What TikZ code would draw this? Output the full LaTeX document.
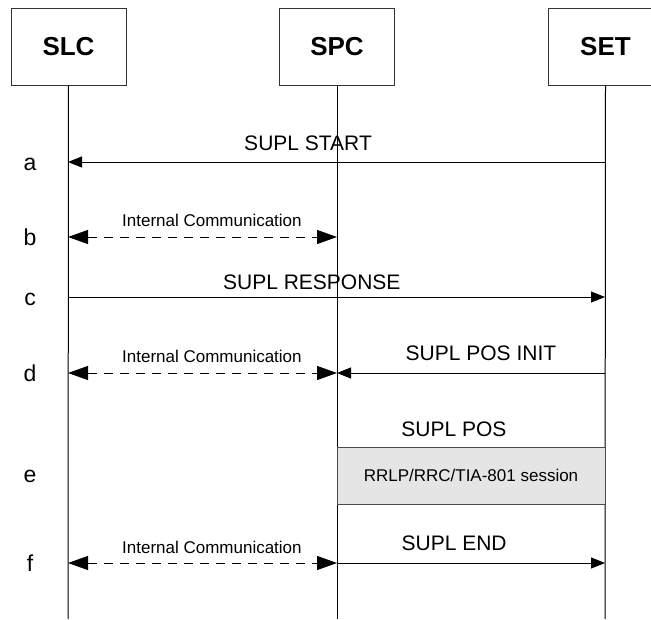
\documentclass[tikz,border=0pt]{standalone}
\usepackage{fontspec}
\setmainfont{Liberation Sans}
\usetikzlibrary{arrows.meta, positioning}
\tikzset{
  entity/.style = {draw=black!80, line width=0.9pt, minimum width=115pt, minimum height=77pt, inner sep=0pt, font=\fontsize{26}{28}\bfseries\selectfont},
  msg/.style = {-{Triangle[length=14pt, width=11pt]}, line width=1pt},
  intcom/.style = {{Triangle[length=20pt, width=14pt]}-{Triangle[length=20pt, width=14pt]}, dash pattern=on 9pt off 7pt, line width=1pt},
  msgtext/.style = {inner sep=0pt, outer sep=0pt, text depth=0pt, font=\fontsize{21}{24}\selectfont},
  comtext/.style = {inner sep=0pt, outer sep=0pt, text depth=0pt, font=\fontsize{17}{20}\selectfont},
  steplabel/.style = {anchor=base, inner sep=0pt, font=\fontsize{23}{25}\selectfont},
  session/.style = {draw=black!70, line width=0.9pt, fill=black!10, minimum width=268pt, minimum height=57pt, inner sep=0pt, font=\fontsize{17}{20}\selectfont}
}
\begin{document}
\begin{tikzpicture}[x=1pt, y=-1pt]
\useasboundingbox (0,0) rectangle (651,619);
% entities and life lines
\node[entity] (slc) at (68.5,46.5) {SLC};
\node[entity] (spc) at (337,46.5) {SPC};
\node[entity] (set) at (605.5,46.5) {SET};
\coordinate (slcend) at (68,619);
\coordinate (spcend) at (337,619);
\coordinate (setend) at (605,619);
\draw [line width=1pt] (slc.south) -- (slcend);
\draw [line width=1pt] (spc.south) -- (spcend);
\draw [line width=1pt] (set.south) -- (setend);
% rows
\foreach \r/\y in {a/162, b/237, c/297, d/373, f/563}{
  \coordinate (slc\r) at (68,\y);
  \coordinate (spc\r) at (337,\y);
  \coordinate (set\r) at (605,\y);
  \node[steplabel] (lab\r) at (30,\y+8) {\r};
}
\node[steplabel] (labe) at (30,482) {e};
\draw [msg] (seta) -- (slca) node[msgtext, above=11.5pt, pos=.553]{SUPL START};
\draw [intcom] (slcb) -- (spcb) node[comtext, above=11pt, pos=.535]{Internal Communication};
\draw [msg] (slcc) -- (setc) node[msgtext, above=7.5pt, pos=.454]{SUPL RESPONSE};
\draw [intcom] (slcd) -- (spcd) node[comtext, above=11pt, pos=.535]{Internal Communication};
\draw [msg] (setd) -- (spcd) node[msgtext, above=12.5pt, pos=.463]{SUPL POS INIT};
\node[session] (sess) at (471,475.5) {RRLP/RRC/TIA-801 session};
\node[msgtext, anchor=base] (tpos) at (454,436.5) {SUPL POS};
\draw [intcom] (slcf) -- (spcf) node[comtext, above=10pt, pos=.535]{Internal Communication};
\draw [msg] (spcf) -- (setf) node[msgtext, above=12.5pt, pos=.437]{SUPL END};
\end{tikzpicture}
\end{document}
